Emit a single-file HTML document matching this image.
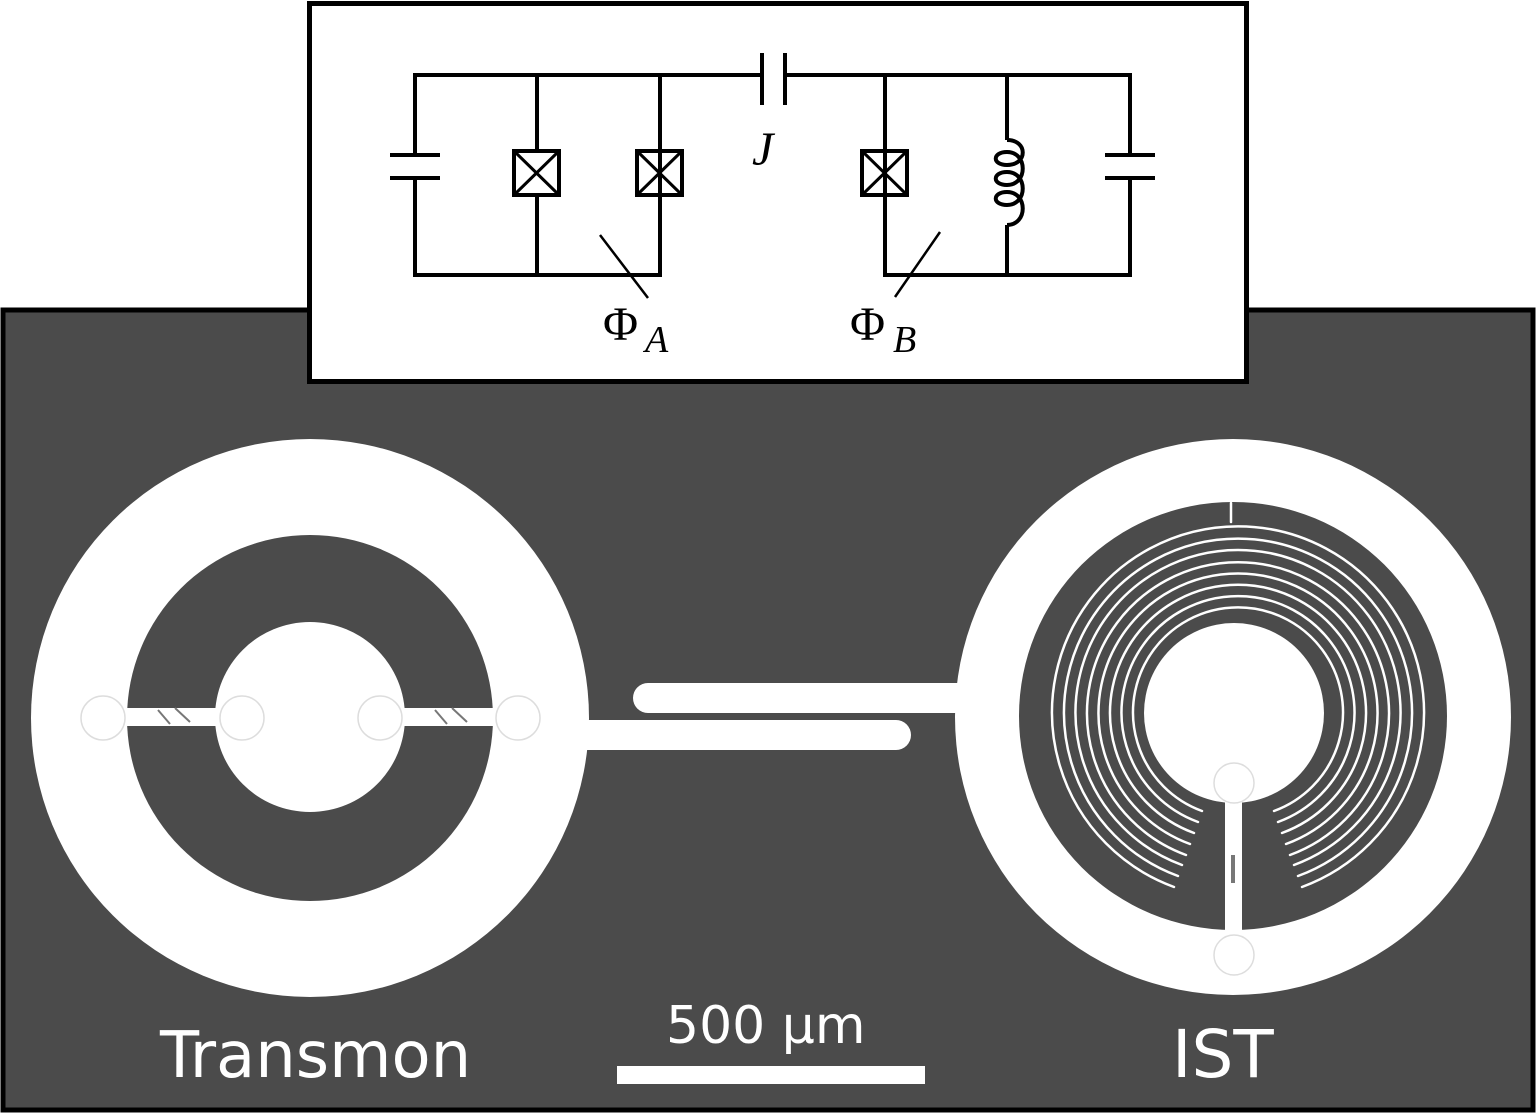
<!DOCTYPE html>
<html><head><meta charset="utf-8"><style>
html,body{margin:0;padding:0;background:#fff;}
svg{display:block;}
</style></head><body>
<svg width="1536" height="1113" viewBox="0 0 1536 1113" xmlns="http://www.w3.org/2000/svg">
<rect x="3" y="310" width="1530" height="800" fill="#4b4b4b" stroke="#000" stroke-width="5"/>
<!-- transmon -->
<circle cx="310" cy="718" r="279" fill="#fff"/>
<circle cx="310" cy="718" r="183" fill="#4b4b4b"/>
<circle cx="310" cy="717" r="95" fill="#fff"/>
<rect x="120" y="708" width="110" height="18" fill="#fff"/>
<rect x="390" y="708" width="110" height="18" fill="#fff"/>
<g fill="none" stroke="#ddd" stroke-width="1.5">
<circle cx="103" cy="718" r="22"/><circle cx="242" cy="718" r="22"/>
<circle cx="380" cy="718" r="22"/><circle cx="518" cy="718" r="22"/>
</g>
<g stroke="#777" stroke-width="2">
<line x1="158" y1="710" x2="170" y2="724"/><line x1="175" y1="708" x2="190" y2="722"/>
<line x1="435" y1="710" x2="447" y2="724"/><line x1="452" y1="708" x2="467" y2="722"/>
</g>
<!-- IST -->
<circle cx="1233" cy="717" r="278" fill="#fff"/>
<circle cx="1233" cy="716" r="214" fill="#4b4b4b"/>
<!-- coupler -->
<g fill="#fff">
<rect x="633" y="683" width="340" height="30" rx="15"/>
<rect x="575" y="720" width="336" height="30" rx="15"/>
<rect x="575" y="720" width="40" height="30"/>
</g>
<g fill="none" stroke="#fff" stroke-width="2.5" stroke-linecap="round">
<path d="M1202 811 A105 105 0 1 1 1274 811"/>
<path d="M1198 822 A116.5 116.5 0 1 1 1278 822"/>
<path d="M1194 833 A128 128 0 1 1 1282 833"/>
<path d="M1190 844 A139.5 139.5 0 1 1 1286 844"/>
<path d="M1186 855 A151 151 0 1 1 1290 855"/>
<path d="M1182 865 A162.5 162.5 0 1 1 1294 865"/>
<path d="M1178 876 A174 174 0 1 1 1298 876"/>
<path d="M1174 887 A186 186 0 1 1 1302 887"/>
<path d="M1231 503 L1231 522"/>
</g>
<circle cx="1234" cy="713" r="90" fill="#fff"/>
<rect x="1225" y="780" width="17" height="160" fill="#fff"/>
<rect x="1231" y="855" width="4" height="28" fill="#777"/>
<g fill="none" stroke="#ddd" stroke-width="1.5">
<circle cx="1234" cy="783" r="20"/><circle cx="1234" cy="955" r="20"/>
</g>
<!-- labels -->
<g fill="#fff" font-family="'DejaVu Sans','Liberation Sans',sans-serif">
<text x="160" y="1077" font-size="64">Transmon</text>
<text x="666" y="1043" font-size="52">500 μm</text>
<text x="1172" y="1077" font-size="66">IST</text>
</g>
<rect x="617" y="1066" width="308" height="18" fill="#fff"/>
<!-- circuit box -->
<rect x="309.5" y="3.5" width="937" height="378" fill="#fff" stroke="#000" stroke-width="5"/>
<g stroke="#000" stroke-width="4" fill="none">
<path d="M762 75 H415 V155 M415 178 V275 H660 V75"/>
<path d="M537 75 V150 M537 196 V275"/>
<path d="M785 75 H1130 V155 M1130 178 V275 H885 V75"/>
<path d="M1007 75 V140 M1007 225 V275"/>
<path d="M390 155 H440 M390 178 H440 M1105 155 H1155 M1105 178 H1155"/>
<path d="M762 53 V105 M785 53 V105"/>
<rect x="514" y="151" width="45" height="44"/>
<rect x="637" y="151" width="45" height="44"/>
<rect x="862" y="151" width="45" height="44"/>
<path d="M514 151 L559 195 M559 151 L514 195 M637 151 L682 195 M682 151 L637 195 M862 151 L907 195 M907 151 L862 195" stroke-width="3"/>
<path d="M1007 140 C1028 140 1028 165 1007 165 C992 165 992 152 1007 152 C1028 152 1028 185 1007 185 C992 185 992 172 1007 172 C1028 172 1028 205 1007 205 C992 205 992 192 1007 192 C1028 192 1028 225 1007 225"/>
<path d="M600 235 L648 298 M940 232 L895 297" stroke-width="2.5"/>
</g>
<g font-family="'Liberation Serif',serif" fill="#000">
<text x="603" y="340" font-size="48">Φ</text><text x="645" y="352" font-size="38" font-style="italic">A</text>
<text x="850" y="340" font-size="48">Φ</text><text x="893" y="352" font-size="38" font-style="italic">B</text>
<text x="752" y="165" font-size="48" font-style="italic">J</text>
</g>
</svg>
</body></html>
